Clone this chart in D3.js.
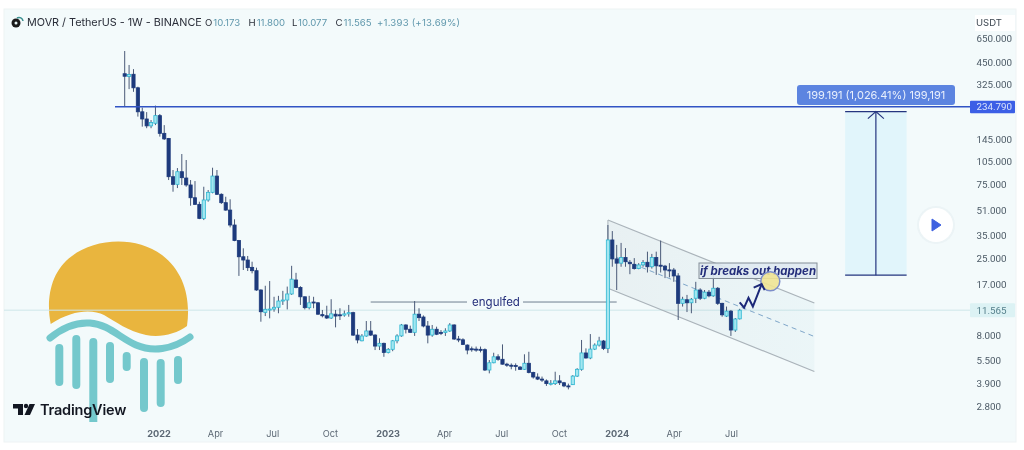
<!DOCTYPE html>
<html><head><meta charset="utf-8">
<script src="https://cdn.jsdelivr.net/npm/d3@7"></script>
<style>
html,body{margin:0;padding:0;background:#fff;overflow:hidden}
svg{display:block;font-family:Inter,"Noto Sans",sans-serif;filter:blur(.3px)}
</style></head><body><svg id="c" width="1024" height="450"></svg>
<script>
// ---- weekly candles (MOVR/USDT), first week starts 2021-11-08
const firstWeek = "2021-11-08";
const opens = [383,368,380,311,218,196,177,184,206,158.5,147,83.4,74.5,89.8,81.8,73.8,61.1,55.4,45,59.1,66.2,84.2,64.3,56.8,50.9,40.8,32.4,25.5,24.3,21.8,20.75,15.59,11.2,11.65,11.76,12.07,13.24,13.44,14.7,18.08,16.2,14.1,12,13.05,12.9,10.83,10.65,10.3,10.9,10.8,10.75,10.95,11.15,8,7.35,7.89,8.5,8,6.8,7.08,6.19,6.48,7.35,7.9,9.29,8.72,8.33,10.9,10.45,9.15,8,8.72,8.33,8.3,8.5,9.29,7.55,7.46,6.9,6.53,6.5,6.48,6.45,4.77,5.31,5.8,5.59,5.2,5.12,5.1,4.98,4.82,5.27,4.6,4.3,4.17,4.06,3.9,3.9,4.06,3.95,3.77,3.84,4.36,4.82,6.14,5.7,6.5,6.9,7.33,6.57,32.7,24.7,23.2,25.2,23.5,22.8,21.4,22.6,23.5,22,25.2,22.5,22.2,21,20.96,19.2,12.8,13.5,12.9,13.8,15.59,13.8,15.1,14.3,16,12.8,10.6,11.4,8.62,10.173];
const highs = [536,436,410,316,232,217,193,239,211,179,148,92.1,94.8,116.7,106.8,79.4,78.2,57.6,71.9,68.5,95.3,92.1,65.2,62,59.7,44.4,32.7,28.9,25.8,23.7,21.7,15.75,16.6,17.8,14.1,14.3,15.4,16.4,22.3,20.1,16.5,14.15,14.3,14.1,13,11.6,12.35,13.6,11.6,11.9,11.5,12.5,11.3,8.75,8.12,9.85,9.85,8.1,7.63,7.15,6.6,7.44,8.1,9.43,9.38,9.2,13.24,11.9,10.7,9.85,9.29,9.06,8.62,8.85,9.55,9.38,7.9,7.63,6.97,6.75,6.75,6.75,6.57,5.53,6.16,6.02,6.97,5.31,5.26,5.26,5.06,6.02,6.25,4.65,4.54,4.33,4.15,4.11,4.65,4.42,4,3.9,4.42,4.9,7.44,6.57,8.12,7.08,7.8,7.44,40.8,37.3,30.4,31.3,29,24.3,25,23.2,24.3,27.5,26.6,27.5,32.4,22.6,23.2,21.6,20,14.1,14.5,13.85,17.6,16,15.59,15.59,19.5,16.3,12.9,12.2,11.6,10.3,11.8];
const lows = [234,305,293,203,175,171,171,179,151,143.6,79.4,66.8,70.5,73.8,71.9,54.3,54.9,44.5,43.9,57.6,65.2,63.6,55.7,50.4,39.4,32.1,19.2,20.96,20.65,19.95,15.4,9.75,10.6,10.25,11.3,11.05,12.5,11.7,14.5,16,12.5,11.7,11.7,11.9,10.8,10.4,10.15,10.15,8.97,10,10.5,10.5,7.89,7.08,7.3,7.8,7.9,6.41,6.41,5.8,6.1,6.3,7.08,7.8,8.2,8.3,7.9,9.85,8.97,7.08,7.8,8,8,7.9,8.38,7.44,7.2,6.9,6.02,6.25,6.25,6.19,4.7,4.54,5.27,5.47,5.17,5,4.82,4.72,4.77,4.77,4.54,4.2,4.11,4,3.77,3.8,3.82,3.82,3.7,3.58,3.82,4.3,4.72,5.65,5.6,6.41,6.75,6.41,6.13,22,15.59,22,22,19.7,21.1,21.2,22,20.2,21.4,19.5,20.2,18.6,18.8,17.6,10,12.2,11.25,11.05,12.85,13.44,13.6,14,14.1,12.5,10.5,10.45,7.9,8.38,10.077];
const closes = [369,379,311,218,196,177,186,206,158.5,146,83.4,74.5,89.8,82.2,73.8,61.1,55.4,45,59.1,66.2,84.2,64.3,56.8,50.9,40.8,32.4,25.5,24.3,21.7,20.75,15.59,11.3,11.72,11.76,12.07,13.24,13.44,14.7,18.3,16.2,14.1,12,12.9,12.9,10.9,10.65,10.3,10.95,10.6,10.75,10.95,11.15,8,7.44,7.89,8.5,8,6.8,7.08,6.19,6.48,7.35,7.9,9.29,8.72,8.33,10.9,10.35,9.15,8,8.72,8.1,8.2,8.5,9.29,7.55,7.46,6.97,6.41,6.5,6.48,6.45,4.77,5.31,5.8,5.59,5.2,5.12,5.05,5.03,4.82,5.27,4.6,4.3,4.17,4.11,3.9,3.92,4.06,3.95,3.77,3.73,4.36,4.82,6.14,5.7,6.5,6.9,7.33,6.57,32.7,24.7,23.2,25.2,23.7,23,21.4,22.6,23.4,22,25.2,22.3,22.2,20.96,20.9,19.2,12.8,13.6,12.9,13.6,15.59,13.8,15.1,14.3,16,12.8,10.8,11.4,8.62,10.15,11.565];

// ---- axis labels
const priceTicks = [650,450,325,145,105,75,51,35,25,17,8,5.5,3.9,2.8];
const monthTicks = ["2022-01-01","2022-04-01","2022-07-01","2022-10-01","2023-01-01","2023-04-01","2023-07-01","2023-10-01","2024-01-01","2024-04-01","2024-07-01"];
const lastPrice = 11.565, resistance = 234.79;
const headerSymbol = "MOVR / TetherUS - 1W - BINANCE";
const headerOHLC = [["O","10.173"],["H","11.800"],["L","10.077"],["C","11.565"]];
const headerChange = "+1.393 (+13.69%)";

// ---- drawings
const channelWeeks = [110,157];
const channelTop = [43.9,12.85], channelMid = [26.6,7.83], channelBottom = [16,4.67];
const engulfedPrice = 13.05, engulfedWeeks = [56.5,112.5];
const zigzagWeeks = [140,141,142.2,143.9,145], zigzagPrices = [13.0,12.0,13.9,12.2,17.0];
const measureWeeks = [164,178], measurePrices = [19.41,218.6];
const measureText = "199.191 (1,026.41%) 199,191";

// ---- colours
const BG="#f3fafb", NAVY="#1d3a7c", CYAN="#2db7d3", CYANF="#a3e6f0", WICK="#4a5a78", INK="#232d7a";

const svg=d3.select("#c");
const parse=d3.utcParse("%Y-%m-%d");
const dates=opens.map((_,i)=>d3.utcWeek.offset(parse(firstWeek),i));
const x=d3.scaleUtc().domain([parse(firstWeek),d3.utcWeek.offset(parse(firstWeek),140)]).range([124.7,739.7]);
const wk=i=>x(d3.utcWeek.offset(parse(firstWeek),i));
const y=d3.scaleLog().domain([2.8,650]).range([406,38]);

svg.append("rect").attr("x",4).attr("y",9).attr("width",1012).attr("height",433).attr("fill",BG).attr("stroke","#eef3f4");

// logo overlay (behind candles)
const logo=svg.append("g");
logo.append("path").attr("fill","#e9b53e")
  .attr("d","M50.7,324 C46,300 50,272 72,256 C96,238 136,236 162,255 C184,272 191,298 187,326 C176,334 160,338 146,335 C128,331 116,322 104,315 C92,309 72,310 50.7,324 Z");
logo.append("path").attr("fill","none").attr("stroke","#74c8cc").attr("stroke-width",7).attr("stroke-linecap","round")
  .attr("d","M50,338 C62,328 76,322 90,323 C108,324 120,338 136,345 C152,352 172,350 190,337");
[[59.3,348,382],[76.3,339,385],[110,346,379],[126.7,356,367],[144,362,408],[160.7,363,403],[178,360,380]].forEach(b=>
  logo.append("line").attr("x1",b[0]).attr("x2",b[0]).attr("y1",b[1]).attr("y2",b[2]).attr("stroke","#74c8cc").attr("stroke-width",8).attr("stroke-linecap","round"));
logo.append("path").attr("d","M89.3,342 a4,4 0 0 1 8,0 L97.3,422 L89.3,422 Z").attr("fill","#74c8cc");

// last price line
svg.append("line").attr("x1",4).attr("x2",970).attr("y1",y(lastPrice)).attr("y2",y(lastPrice))
  .attr("stroke","#cfe6e9").attr("stroke-width",1);

// channel
const line2=d3.line().x(d=>d[0]).y(d=>d[1]);
const cx=channelWeeks.map(wk);
const grad=svg.append("defs").append("linearGradient").attr("id","cf");
grad.append("stop").attr("offset",0).attr("stop-color","#7d8f9c").attr("stop-opacity",.09);
grad.append("stop").attr("offset",1).attr("stop-color","#8fc4d0").attr("stop-opacity",.08);
svg.append("path").attr("fill","url(#cf)")
  .attr("d",line2([[cx[0],y(channelTop[0])],[cx[1],y(channelTop[1])],[cx[1],y(channelBottom[1])],[cx[0],y(channelBottom[0])]])+"Z");
[channelTop,channelBottom].forEach(c=>svg.append("line").attr("x1",cx[0]).attr("x2",cx[1]).attr("y1",y(c[0])).attr("y2",y(c[1])).attr("stroke","#aab3ba").attr("stroke-width",1.2));
svg.append("line").attr("x1",cx[0]).attr("x2",cx[0]).attr("y1",y(channelTop[0])).attr("y2",y(channelBottom[0])).attr("stroke","#aab3ba");
svg.append("line").attr("x1",cx[0]).attr("x2",cx[1]).attr("y1",y(channelMid[0])).attr("y2",y(channelMid[1])).attr("stroke","#7fa6c9").attr("stroke-width",1).attr("stroke-dasharray","5 4");

// engulfed
const eY=y(engulfedPrice);
svg.append("line").attr("x1",wk(engulfedWeeks[0])).attr("x2",wk(engulfedWeeks[1])).attr("y1",eY).attr("y2",eY).attr("stroke","#6f7e90").attr("stroke-width",1);

// candles
const g=svg.append("g");
const idx=d3.range(opens.length);
g.selectAll("line.w").data(idx).join("line").attr("class","w")
  .attr("x1",i=>x(dates[i])).attr("x2",i=>x(dates[i])).attr("y1",i=>y(highs[i])).attr("y2",i=>y(lows[i]))
  .attr("stroke",WICK).attr("stroke-width",1);
g.selectAll("rect.b").data(idx).join("rect").attr("class","b")
  .attr("x",i=>x(dates[i])-1.6).attr("width",3.2)
  .attr("y",i=>y(Math.max(opens[i],closes[i])))
  .attr("height",i=>Math.max(1,Math.abs(y(opens[i])-y(closes[i]))))
  .attr("fill",i=>closes[i]>=opens[i]?CYANF:NAVY)
  .attr("stroke",i=>closes[i]>=opens[i]?CYAN:NAVY).attr("stroke-width",.8);

// resistance
svg.append("line").attr("x1",115).attr("x2",970).attr("y1",y(resistance)).attr("y2",y(resistance)).attr("stroke","#3153c4").attr("stroke-width",1.5);

// engulfed label
svg.append("rect").attr("x",467).attr("y",eY-7).attr("width",56).attr("height",14).attr("fill",BG);
svg.append("text").attr("x",496).attr("y",eY+4).attr("text-anchor","middle").attr("font-size",11.5).attr("fill",INK).text("engulfed");

// if breaks label
svg.append("rect").attr("x",699).attr("y",263).attr("width",118).attr("height",15.5).attr("fill","#dfe9f1").attr("fill-opacity",.9).attr("stroke","#848e98").attr("stroke-width",1);
svg.append("text").attr("x",758).attr("y",275).attr("text-anchor","middle").attr("font-size",11.5).attr("font-weight",700).attr("font-style","italic").attr("fill",INK).text("if breaks out happen");

// forecast zigzag
const zz=zigzagWeeks.map((w,i)=>[wk(w),y(zigzagPrices[i])]);
svg.append("circle").attr("cx",770.3).attr("cy",281.3).attr("r",9.5).attr("fill","#efe392").attr("fill-opacity",.9).attr("stroke","#7d8ec9").attr("stroke-width",1.5);
svg.append("path").attr("d",line2(zz)).attr("fill","none").attr("stroke","#1c2878").attr("stroke-width",2);
const tip=zz[zz.length-1];
svg.append("path").attr("d",line2([[tip[0]-8,tip[1]+3.5],tip,[tip[0]+3,tip[1]+6]])).attr("fill","none").attr("stroke","#1c2878").attr("stroke-width",2);

// measure
const mx=measureWeeks.map(wk), my=measurePrices.map(y), mc=(mx[0]+mx[1])/2;
svg.append("rect").attr("x",mx[0]).attr("y",my[1]).attr("width",mx[1]-mx[0]).attr("height",my[0]-my[1]).attr("fill","#e1f5fb");
my.forEach(v=>svg.append("line").attr("x1",mx[0]).attr("x2",mx[1]).attr("y1",v).attr("y2",v).attr("stroke","#25357f").attr("stroke-width",1.2));
svg.append("line").attr("x1",mc).attr("x2",mc).attr("y1",my[0]).attr("y2",my[1]).attr("stroke","#25357f").attr("stroke-width",1.2);
svg.append("path").attr("d",line2([[mc-8,my[1]+7],[mc,my[1]],[mc+8,my[1]+7]])).attr("fill","none").attr("stroke","#25357f").attr("stroke-width",1.2);
svg.append("rect").attr("x",797).attr("y",85).attr("width",158).attr("height",20).attr("rx",3).attr("fill","#5c84e0");
svg.append("text").attr("x",876).attr("y",99).attr("text-anchor","middle").attr("font-size",11).attr("fill","#e8effc").text(measureText);

// play button
svg.append("circle").attr("cx",936).attr("cy",225).attr("r",19).attr("fill","#e8f1f3").attr("opacity",.7);
svg.append("circle").attr("cx",936).attr("cy",225).attr("r",17).attr("fill","#fff");
svg.append("path").attr("d","M932,219 L941,225 L932,231 Z").attr("fill","#3f61e0").attr("stroke","#3f61e0").attr("stroke-linejoin","round");

// axes
const ya=svg.append("g").attr("transform","translate(970,0)")
  .call(d3.axisRight(y).tickValues(priceTicks).tickSize(0).tickPadding(6.5).tickFormat(d3.format(".3f")));
ya.select(".domain").remove();
ya.selectAll("text").attr("font-size",9.8).attr("fill","#4c5a66").attr("font-family","Roboto,sans-serif");
const xa=svg.append("g").attr("transform","translate(0,426.5)")
  .call(d3.axisBottom(x).tickValues(monthTicks.map(parse)).tickSize(0).tickPadding(4).tickFormat(d=>d.getUTCMonth()===0?d.getUTCFullYear():d3.utcFormat("%b")(d)));
xa.select(".domain").remove();
xa.selectAll("text").attr("font-size",9.2).attr("fill","#5c6874").attr("font-family","Inter,sans-serif")
  .attr("font-weight",d=>d.getUTCMonth()===0?700:400);

// price labels
svg.append("rect").attr("x",975).attr("y",15).attr("width",40).attr("height",16).attr("fill","#fff");
svg.append("text").attr("x",976).attr("y",26).attr("font-size",9.5).attr("fill","#3c4650").text("USDT");
svg.append("rect").attr("x",970).attr("y",y(resistance)-6).attr("width",45).attr("height",12.5).attr("rx",1).attr("fill","#3c5fe6");
svg.append("text").attr("x",976.5).attr("y",y(resistance)+3.6).attr("font-size",9.8).attr("font-family","Roboto,sans-serif").attr("fill","#dbe4fb").text(d3.format(".3f")(resistance));
svg.append("rect").attr("x",970).attr("y",y(lastPrice)-7).attr("width",45).attr("height",14).attr("rx",1).attr("fill","#dcf2f4");
svg.append("text").attr("x",976.5).attr("y",y(lastPrice)+3.6).attr("font-size",9.8).attr("font-family","Roboto,sans-serif").attr("fill","#56808c").text(d3.format(".3f")(lastPrice));

// header
svg.append("circle").attr("cx",16).attr("cy",23).attr("r",4.5).attr("fill","#1a1a1a");
svg.append("circle").attr("cx",16).attr("cy",23).attr("r",1.5).attr("fill","#e8f5f5");
svg.append("path").attr("d","M17,18 a4,4 0 0 1 6,3").attr("fill","none").attr("stroke","#3a8f8f").attr("stroke-width",1.5);
svg.append("text").attr("x",27).attr("y",26).attr("font-size",10.8).attr("fill","#2a2e39").text(headerSymbol);
headerOHLC.forEach((p,i)=>{
  const t=svg.append("text").attr("x",205+i*43.5).attr("y",25.5).attr("font-size",9.6).attr("fill","#5f97ac");
  t.append("tspan").attr("fill","#2a2e39").text(p[0]);
  t.append("tspan").attr("dx",1).text(p[1]);
});
svg.append("text").attr("x",377).attr("y",25.5).attr("font-size",9.6).attr("letter-spacing",".2").attr("fill","#5f97ac").text(headerChange);

// TradingView mark
const tv=svg.append("g").attr("fill","#131722");
tv.append("path").attr("d","M13,404 H23 V415 H18 V408.5 H13 Z");
tv.append("circle").attr("cx",26).attr("cy",406).attr("r",2.2);
tv.append("path").attr("d","M29.5,404 H35 L30,415 H24.5 Z");
svg.append("text").attr("x",40).attr("y",414.5).attr("font-size",14.5).attr("font-weight",600).attr("fill","#131722").attr("font-family","Inter,sans-serif").attr("letter-spacing","-.2").text("TradingView");
</script></body></html>
